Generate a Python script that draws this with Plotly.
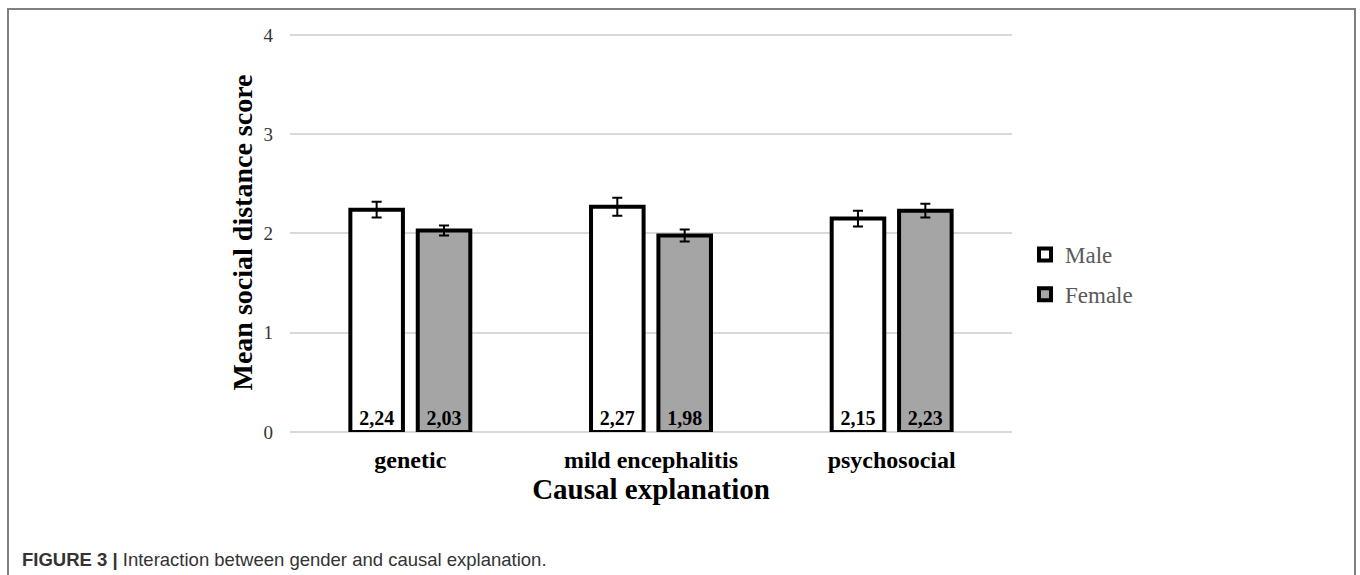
import plotly.graph_objects as go

categories = ["genetic", "mild encephalitis", "psychosocial"]
male_means = [2.24, 2.27, 2.15]
female_means = [2.03, 1.98, 2.23]
male_err = [0.08, 0.09, 0.08]
female_err = [0.05, 0.06, 0.07]
y_ticks = [0, 1, 2, 3, 4]

SERIF = "Liberation Serif, Times New Roman, serif"

# pixel geometry of the plotting area
PX_LEFT, PX_RIGHT = 290, 1012
PX_ZERO, PX_TOP = 432, 33
Y_MAX = 4.02
PX_H = PX_ZERO - PX_TOP
PX_W = PX_RIGHT - PX_LEFT


def px_x(p):
    return (p - PX_LEFT) / PX_W


def px_y(p):
    return (PX_ZERO - p) / PX_H


def fmt(v):
    return f"{v:.2f}".replace(".", ",")


fig = go.Figure()
for name, vals, errs, fill, grp in [
    ("Male", male_means, male_err, "#ffffff", "m"),
    ("Female", female_means, female_err, "#a5a5a5", "f"),
]:
    fig.add_trace(go.Bar(
        name=name,
        x=categories,
        y=vals,
        legendgroup=grp,
        marker=dict(color=fill, line=dict(color="#000000", width=4)),
        error_y=dict(type="data", array=errs, visible=True,
                     color="#000000", thickness=2, width=5),
        text=[fmt(v) for v in vals],
        textposition="inside",
        insidetextanchor="start",
        textangle=0,
        textfont=dict(family=SERIF, size=20, color="#000000", weight="bold"),
        constraintext="none",
        hoverinfo="skip",
    ))

fig.update_layout(
    width=1360, height=575,
    margin=dict(l=PX_LEFT, r=1360 - PX_RIGHT, t=PX_TOP, b=575 - PX_ZERO,
                autoexpand=False),
    paper_bgcolor="#ffffff",
    plot_bgcolor="#ffffff",
    barmode="group",
    bargap=0.44,
    bargroupgap=0.22,
    showlegend=True,
    legend=dict(
        x=px_x(1025), y=px_y(233), xanchor="left", yanchor="top",
        font=dict(family=SERIF, size=23, color="#595959"),
        traceorder="grouped",
        tracegroupgap=7,
        itemwidth=30,
        bgcolor="rgba(0,0,0,0)",
    ),
    xaxis=dict(
        showgrid=False,
        showline=False,
        ticks="",
        tickfont=dict(family=SERIF, size=24, color="#000000", weight="bold"),
        ticklabelstandoff=11,
        title=dict(text="Causal explanation",
                   font=dict(family=SERIF, size=29, color="#000000", weight="bold"),
                   standoff=5),
        automargin=False,
    ),
    yaxis=dict(
        range=[0, Y_MAX],
        tickvals=y_ticks,
        showgrid=True,
        gridcolor="#d9d9d9",
        gridwidth=1.5,
        zeroline=True,
        zerolinecolor="#d9d9d9",
        zerolinewidth=2,
        showline=False,
        ticks="",
        tickfont=dict(family=SERIF, size=19, color="#333333"),
        ticklabelstandoff=16,
        title=dict(text="Mean social distance score",
                   font=dict(family=SERIF, size=28, color="#000000", weight="bold"),
                   standoff=2),
        automargin=False,
    ),
    shapes=[
        dict(type="rect", xref="paper", yref="paper",
             x0=px_x(8), x1=px_x(1355),
             y0=px_y(590), y1=px_y(9),
             line=dict(color="#808080", width=2), fillcolor="rgba(0,0,0,0)",
             layer="below"),
    ],
    annotations=[
        dict(xref="paper", yref="paper",
             x=px_x(20), y=px_y(559),
             xanchor="left", yanchor="middle", showarrow=False,
             text="<b>FIGURE 3 |</b> Interaction between gender and causal explanation.",
             font=dict(family="Liberation Sans, Arial, sans-serif", size=18.5,
                       color="#333333")),
    ],
)

fig.write_html("out.html")
